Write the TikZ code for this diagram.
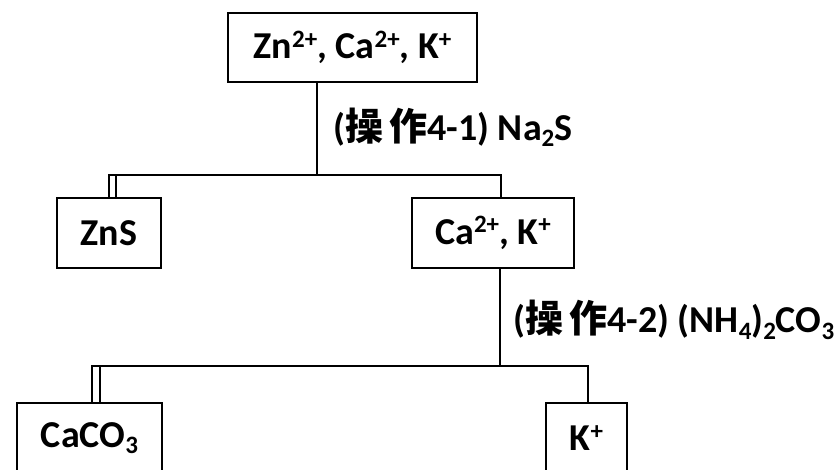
\documentclass[tikz,border=0pt]{standalone}
\usepackage{fontspec}
\setmainfont{Carlito}
\newfontfamily\cjk{Noto Sans CJK SC}
\newcommand\mysup[1]{\raisebox{0.3em}{\fontsize{25}{25}\selectfont #1}}
\newcommand\mysub[1]{\raisebox{-0.17em}{\fontsize{25}{25}\selectfont #1}}
\begin{document}
\begin{tikzpicture}[x=1pt,y=-1pt,
  box/.style={draw,line width=2.6pt,inner sep=0pt,font=\fontsize{38}{40}\selectfont\bfseries},
  lbl/.style={inner sep=0pt,anchor=west,font=\fontsize{38}{40}\selectfont\bfseries},
  conn/.style={line width=2.4pt},
  thin/.style={line width=2pt}]
\useasboundingbox (0,0) rectangle (839,470);
\clip (0,0) rectangle (839,470);
\node[box,minimum width=249pt,minimum height=69pt] (top) at (352.5,47.5) {Zn\mysup{2+}, Ca\mysup{2+}, K\mysup{+}};
\node[box,minimum width=104pt,minimum height=70pt] (zns) at (109,233) {ZnS};
\node[box,minimum width=162pt,minimum height=70pt] (ca) at (493,233) {Ca\mysup{2+}, K\mysup{+}};
\node[box,minimum width=145pt,minimum height=70pt] (caco) at (89.5,438) {CaCO\mysub{3}};
\node[box,minimum width=81pt,minimum height=70pt] (k) at (586.5,438) {K\mysup{+}};
\node[lbl] (l1) at (333,127) {({\cjk 操\,作}4-1) Na\mysub{2}S};
\node[lbl] (l2) at (513,320) {({\cjk 操\,作}4-2) (NH\mysub{4})\mysub{2}CO\mysub{3}};
% level 1
\coordinate (j1) at (317,175);
\coordinate (a1) at (109,175);
\coordinate (a2) at (116,175);
\coordinate (b1) at (501,175);
\draw[conn] (top.south -| j1) -- (j1);
\draw[conn] (zns.north -| a1) -- (a1) -- (b1) -- (ca.north -| b1);
\draw[thin] (zns.north -| a2) -- (a2);
% level 2
\coordinate (j2) at (500,366);
\coordinate (c1) at (92,366);
\coordinate (c2) at (100,366);
\coordinate (d1) at (588,366);
\draw[conn] (ca.south -| j2) -- (j2);
\draw[conn] (caco.north -| c1) -- (c1) -- (d1) -- (k.north -| d1);
\draw[thin] (caco.north -| c2) -- (c2);
\end{tikzpicture}
\end{document}
